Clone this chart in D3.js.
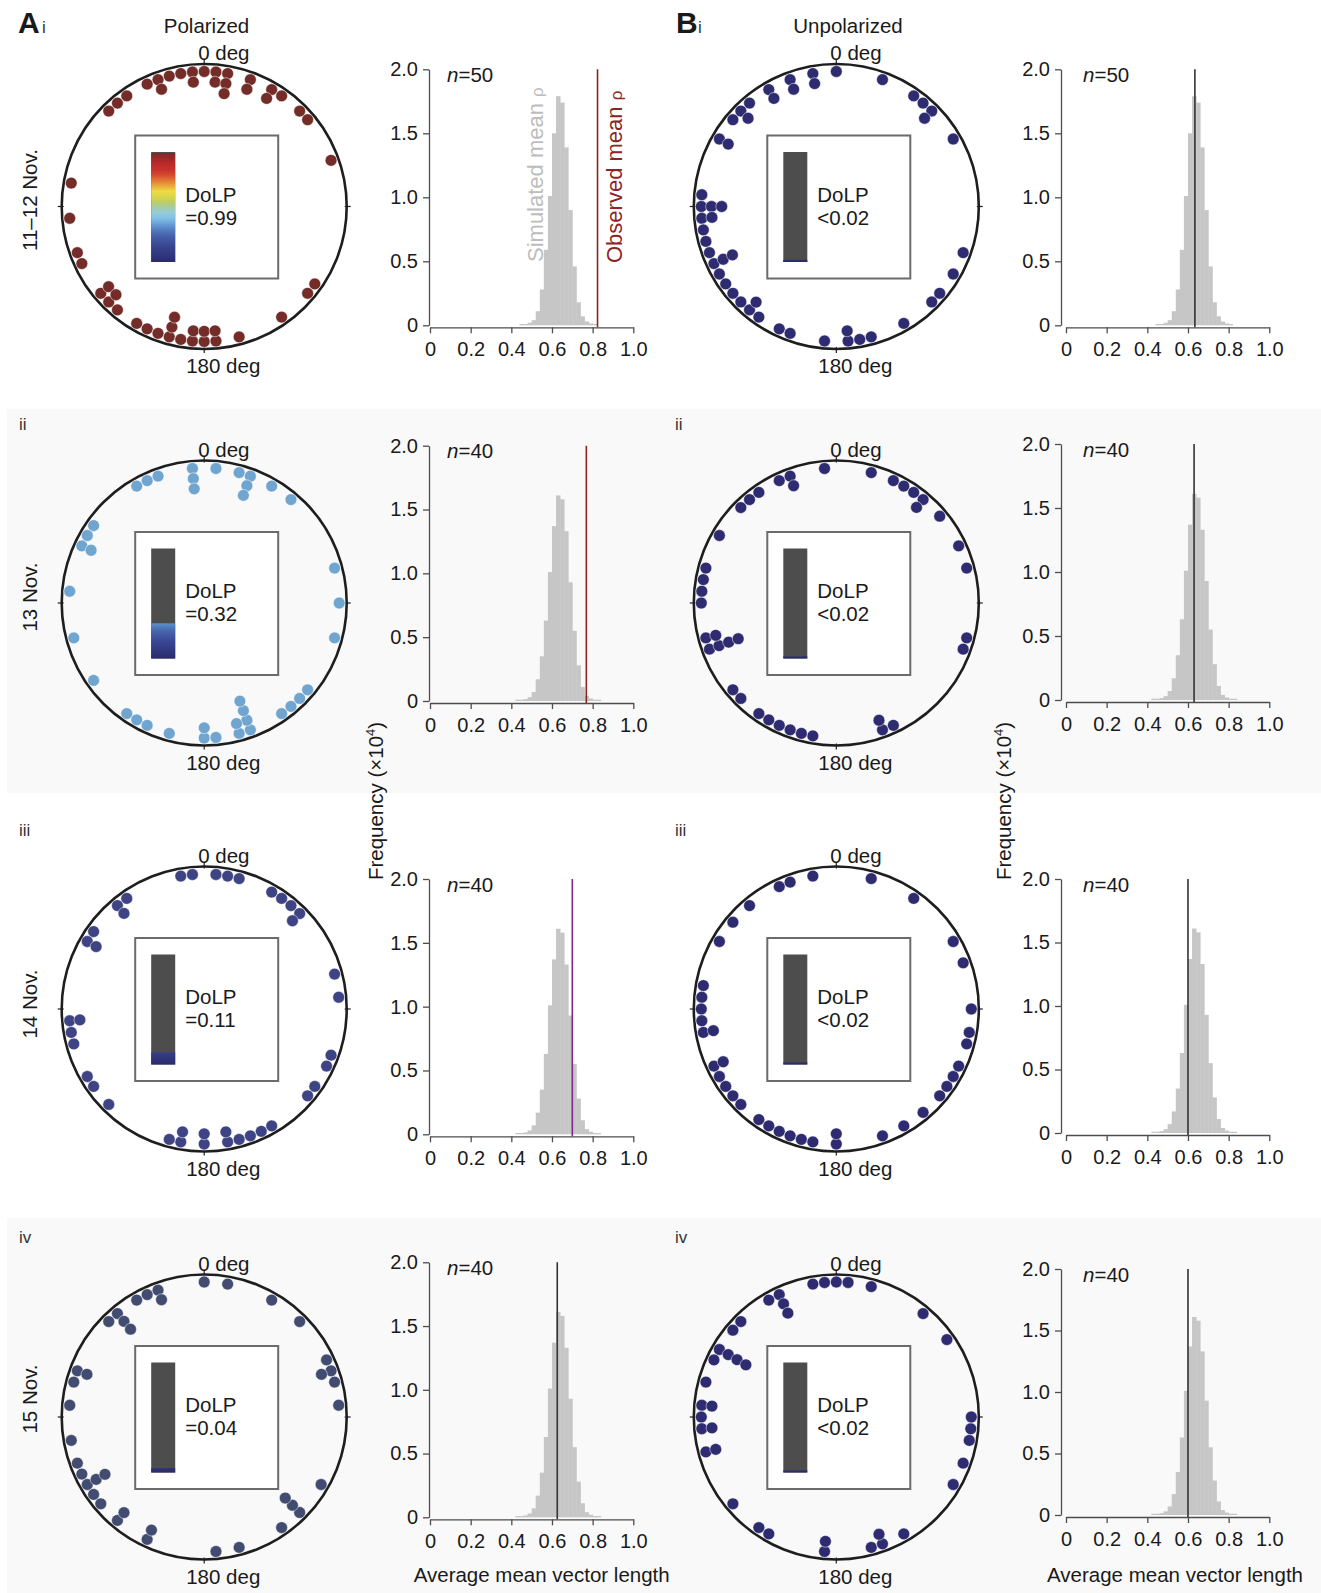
<!DOCTYPE html>
<html lang="en">
<head>
<meta charset="UTF-8">
<title>Polarized vs unpolarized orientation</title>
<script src="https://d3js.org/d3.v7.min.js"></script>
<style>
  body { margin: 0; background: #fff; }
  svg { display: block; font-family: "Liberation Sans", Arial, sans-serif; }
  .tick text { font-size: 20px; fill: #1a1a1a; }
  .axis path, .axis line { stroke: #4d4d4d; stroke-width: 1.3px; }
</style>
</head>
<body>
<svg id="fig" width="1321" height="1593"></svg>
<script>
// ---- data: heading of each animal, degrees (5 deg bins; repeats stack inward)
const anglesAi = [0, 355, 355, 5, 5, 10, 10, 10, 350, 345, 340, 340, 335, 20, 20, 30, 30, 35, 325, 320, 315, 45, 50, 70,
  280, 265, 250, 245, 230, 230, 225, 225, 220, 210, 205, 200, 195, 195, 195, 190, 185, 185, 180, 180, 175, 175, 165, 145, 130, 125];
const anglesBi = [0, 350, 350, 340, 340, 330, 330, 320, 315, 315, 310, 300, 300, 20, 35, 40, 45, 45, 60, 275, 270, 270, 270,
  265, 265, 260, 255, 250, 245, 245, 245, 240, 235, 230, 225, 220, 220, 215, 205, 200, 185, 175, 175, 170, 165, 150, 135, 130, 120, 110];
const anglesAii = [355, 355, 355, 5, 15, 20, 20, 20, 30, 40, 340, 335, 330, 305, 300, 295, 295, 275, 255, 235, 215, 210, 205, 195,
  180, 180, 175, 160, 160, 160, 160, 165, 165, 145, 140, 135, 130, 75, 90, 105];
const anglesBii = [355, 15, 25, 30, 35, 40, 40, 50, 65, 75, 105, 110, 155, 160, 160, 190, 195, 200, 205, 210, 215, 225, 230,
  250, 250, 250, 250, 255, 255, 270, 275, 280, 285, 300, 315, 320, 325, 335, 340, 340];
const anglesAiii = [350, 355, 5, 10, 15, 30, 35, 40, 45, 45, 325, 320, 320, 305, 300, 300, 75, 85, 110, 115, 125, 130, 150, 155,
  160, 165, 170, 170, 180, 180, 190, 190, 195, 225, 235, 240, 255, 260, 265, 265];
const anglesBiii = [350, 15, 35, 335, 340, 320, 310, 300, 280, 275, 270, 265, 260, 260, 245, 245, 240, 235, 230, 225, 215,
  210, 205, 200, 195, 190, 180, 180, 160, 150, 140, 130, 125, 120, 115, 105, 100, 90, 70, 60];
const anglesAiv = [0, 10, 30, 45, 340, 340, 335, 330, 320, 320, 320, 315, 290, 290, 285, 275, 260, 250, 245, 240, 240, 240,
  235, 230, 220, 220, 205, 205, 175, 165, 145, 135, 135, 135, 120, 85, 75, 70, 70, 65];
const anglesBiv = [0, 5, 355, 350, 15, 40, 55, 335, 335, 335, 330, 315, 310, 300, 300, 300, 300, 295, 285, 275, 275, 270,
  265, 265, 255, 255, 230, 215, 210, 185, 185, 165, 160, 160, 150, 120, 110, 100, 95, 90];

const dolpA = [0.99, 0.32, 0.11, 0.04];
const dolpB = [0.02, 0.02, 0.02, 0.02];
const dolpLabelsA = ["=0.99", "=0.32", "=0.11", "=0.04"];
const dolpLabelsB = ["<0.02", "<0.02", "<0.02", "<0.02"];
const dotColorsA = ["#732c27", "#70a5d0", "#3e4383", "#424b70"];
const dotColorsB = ["#2e2b70", "#2e2b70", "#2e2b70", "#2e2b70"];
const rowDates = ["11\u201312 Nov.", "13 Nov.", "14 Nov.", "15 Nov."];
const rowNumerals = ["i", "ii", "iii", "iv"];
const sampleN = [50, 40, 40, 40];

// simulated mean vector length histograms (frequency x10^4)
const edgesN50 = [0.44, 0.46, 0.48, 0.50, 0.52, 0.54, 0.56, 0.58, 0.60, 0.62, 0.64, 0.66, 0.68, 0.70, 0.72, 0.74, 0.76, 0.78, 0.80, 0.82];
const freqN50 = [0.01, 0.01, 0.02, 0.04, 0.11, 0.28, 0.59, 1.01, 1.50, 1.79, 1.74, 1.39, 0.90, 0.46, 0.18, 0.07, 0.03, 0.015, 0.01];
const edgesN40 = [0.42, 0.44, 0.46, 0.48, 0.50, 0.52, 0.54, 0.56, 0.58, 0.60, 0.62, 0.64, 0.66, 0.68, 0.70, 0.72, 0.74, 0.76, 0.78, 0.80, 0.82, 0.84];
const freqN40 = [0.01, 0.01, 0.015, 0.03, 0.07, 0.17, 0.35, 0.63, 1.01, 1.37, 1.61, 1.58, 1.33, 0.93, 0.55, 0.28, 0.11, 0.04, 0.02, 0.01, 0.01];

const observedA = [0.824, 0.769, 0.70, 0.626];
const observedB = [0.634, 0.63, 0.60, 0.60];
const obsColorsA = ["#8c2424", "#8c2424", "#7e2a8c", "#333333"];
const obsColorB = "#333333";

// colour map used for DoLP bars
const cmapStops = [0, 0.08, 0.17, 0.26, 0.32, 0.41, 0.47, 0.52, 0.56, 0.64, 0.70, 0.75, 0.81, 0.90, 1.0];
const cmapColors = ["#2a2a6c", "#323a80", "#3c4a98", "#4a6ab0", "#5a90d0", "#88c8ea", "#9ccfd0", "#a8c880",
  "#c8d050", "#f0e040", "#eaa040", "#e07030", "#d03830", "#b82828", "#782828"];

// ---- layout
const rowCy = [206.5, 603, 1009, 1417];
const labelCy = [200, 597, 1004, 1399];
const numeralY = [33, 430, 836, 1243];
const histTopA = [69.3, 445.7, 879, 1262.3], histZeroA = [325.3, 701, 1134.3, 1517.3];
const histTopB = [69.3, 444, 879, 1269], histZeroB = [325.3, 700, 1133, 1515];
const R = 142.5;

const svg = d3.select("#fig");
const cmap = d3.scaleLinear().domain(cmapStops).range(cmapColors);
const defs = svg.append("defs");

svg.append("rect").attr("width", 1321).attr("height", 1593).attr("fill", "#fff");
[[409, 793], [1218, 1593]].forEach(b => {
  svg.append("rect").attr("x", 7).attr("y", b[0]).attr("width", 1314).attr("height", b[1] - b[0]).attr("fill", "#f9f9f9");
});

function txt(g, x, y, s, size, opts = {}) {
  const t = g.append("text").attr("x", x).attr("y", y).attr("font-size", size).attr("fill", opts.fill || "#1a1a1a").text(s);
  if (opts.anchor) t.attr("text-anchor", opts.anchor);
  if (opts.weight) t.attr("font-weight", opts.weight);
  return t;
}

function drawCircle(id, cx, cy, angles, dotColor, dolp, dolpLabel) {
  const g = svg.append("g");
  const ang = d3.scaleLinear().domain([0, 360]).range([0, 2 * Math.PI]);
  const rad = d3.scaleLinear().domain([0, 1]).range([R - 7.5, R - 17.7]);

  g.append("circle").attr("cx", cx).attr("cy", cy).attr("r", R)
    .attr("fill", "none").attr("stroke", "#1e1e1e").attr("stroke-width", 2.6);
  [0, 90, 180, 270].forEach(a => {
    const p1 = d3.pointRadial(ang(a), R - 2), p2 = d3.pointRadial(ang(a), R + 4);
    g.append("line").attr("x1", cx + p1[0]).attr("y1", cy + p1[1]).attr("x2", cx + p2[0]).attr("y2", cy + p2[1])
      .attr("stroke", "#1e1e1e").attr("stroke-width", 1.2);
  });

  // legend box with DoLP bar
  g.append("rect").attr("x", cx - 69).attr("y", cy - 71).attr("width", 143).attr("height", 143)
    .attr("fill", "#fff").attr("stroke", "#6b6b6b").attr("stroke-width", 2);
  const cb = d3.scaleLinear().domain([0, 1]).range([cy + 55.5, cy - 54.5]);
  g.append("rect").attr("x", cx - 53).attr("y", cb(1)).attr("width", 24).attr("height", cb(0) - cb(1)).attr("fill", "#4d4d4d");
  const grad = defs.append("linearGradient").attr("id", "cb-" + id)
    .attr("x1", 0).attr("y1", 1).attr("x2", 0).attr("y2", 0);
  d3.range(0, 1.0001, 0.05).forEach(o => {
    grad.append("stop").attr("offset", o).attr("stop-color", cmap(o * dolp));
  });
  g.append("rect").attr("x", cx - 53).attr("y", cb(dolp)).attr("width", 24).attr("height", cb(0) - cb(dolp))
    .attr("fill", `url(#cb-${id})`);
  txt(g, cx - 19, cy - 5, "DoLP", 20.5);
  txt(g, cx - 19, cy + 18, dolpLabel, 20.5);

  txt(g, cx - 6, cy - R - 4, "0 deg", 20.5);
  txt(g, cx - 18, cy + R + 24, "180 deg", 20.5);

  const seen = {};
  const pts = angles.map(a => { const k = seen[a] || 0; seen[a] = k + 1; return { a, k }; });
  g.selectAll("circle.dot").data(pts).join("circle").attr("class", "dot")
    .attr("cx", d => cx + d3.pointRadial(ang(d.a), rad(d.k))[0])
    .attr("cy", d => cy + d3.pointRadial(ang(d.a), rad(d.k))[1])
    .attr("r", 5.9).attr("fill", dotColor).attr("stroke", "#fff").attr("stroke-width", 0.5);
}

function drawHist(x0, top, zero, axisGap, edges, freq, n, obs, obsColor) {
  const g = svg.append("g");
  const x = d3.scaleLinear().domain([0, 1]).range([x0, x0 + 203.3]);
  const y = d3.scaleLinear().domain([0, 2]).range([zero, top]);
  const bins = freq.map((f, i) => ({ a: edges[i], b: edges[i + 1], f }));
  g.selectAll("rect").data(bins).join("rect")
    .attr("x", d => x(d.a)).attr("width", d => x(d.b) - x(d.a) + 0.4)
    .attr("y", d => y(d.f)).attr("height", d => y(0) - y(d.f)).attr("fill", "#c6c6c6");

  const fmt = d => d === 0 ? "0" : d.toFixed(1);
  g.append("g").attr("class", "axis").attr("transform", `translate(0,${zero + 2})`)
    .call(d3.axisBottom(x).tickValues([0, 0.2, 0.4, 0.6, 0.8, 1]).tickFormat(fmt).tickSize(6).tickPadding(9).tickSizeOuter(0))
    .attr("font-size", null).attr("font-family", null);
  g.append("g").attr("class", "axis").attr("transform", `translate(${x0 - axisGap},0)`)
    .call(d3.axisLeft(y).tickValues([0, 0.5, 1, 1.5, 2]).tickFormat(fmt).tickSize(6).tickPadding(5).tickSizeOuter(0))
    .attr("font-size", null).attr("font-family", null);

  g.append("line").attr("x1", x(obs)).attr("x2", x(obs)).attr("y1", y(2)).attr("y2", zero + 2)
    .attr("stroke", obsColor).attr("stroke-width", 1.6);

  const t = txt(g, x0 + 17, top + 12.5, "", 20.5);
  t.append("tspan").attr("font-style", "italic").text("n");
  t.append("tspan").text("=" + n);
  return { g, x, y };
}

// column headers
txt(svg, 18, 33, "A", 30, { weight: "bold" });
txt(svg, 42, 33, "i", 17, { fill: "#333" });
txt(svg, 676, 33, "B", 30, { weight: "bold" });
txt(svg, 698, 33, "i", 17, { fill: "#333" });
txt(svg, 206.5, 33, "Polarized", 20.5, { anchor: "middle" });
txt(svg, 848, 33, "Unpolarized", 20.5, { anchor: "middle" });

const anglesA = [anglesAi, anglesAii, anglesAiii, anglesAiv];
const anglesB = [anglesBi, anglesBii, anglesBiii, anglesBiv];

rowCy.forEach((cy, r) => {
  if (r > 0) {
    txt(svg, 19, numeralY[r], rowNumerals[r], 17, { fill: "#333" });
    txt(svg, 675, numeralY[r], rowNumerals[r], 17, { fill: "#333" });
  }
  svg.append("text").attr("transform", `translate(36.5,${labelCy[r]}) rotate(-90)`)
    .attr("text-anchor", "middle").attr("font-size", 20.5).attr("fill", "#1a1a1a").text(rowDates[r]);

  drawCircle("A" + r, 204.2, cy, anglesA[r], dotColorsA[r], dolpA[r], dolpLabelsA[r]);
  drawCircle("B" + r, 836.3, cy, anglesB[r], dotColorsB[r], dolpB[r], dolpLabelsB[r]);

  const eA = r === 0 ? edgesN50 : edgesN40, fA = r === 0 ? freqN50 : freqN40;
  drawHist(430, histTopA[r], histZeroA[r], 1, eA, fA, sampleN[r], observedA[r], obsColorsA[r]);
  drawHist(1066, histTopB[r], histZeroB[r], 5, eA, fA, sampleN[r], observedB[r], obsColorB);
});

// annotations on first histogram
const sim = svg.append("text").attr("transform", "translate(542.7,262) rotate(-90)")
  .attr("font-size", 22).attr("fill", "#bdbdbd").text("Simulated mean ");
sim.append("tspan").attr("font-size", 17).text("\u03c1");
const obsT = svg.append("text").attr("transform", "translate(621.5,263) rotate(-90)")
  .attr("font-size", 22).attr("fill", "#8c2424").text("Observed mean ");
obsT.append("tspan").attr("font-size", 17).text("\u03c1");

// shared axis titles
[383, 1011].forEach(xx => {
  const f = svg.append("text").attr("transform", `translate(${xx},801) rotate(-90)`)
    .attr("text-anchor", "middle").attr("font-size", 20.5).attr("fill", "#1a1a1a").text("Frequency (\u00d710");
  f.append("tspan").attr("font-size", 13).attr("dy", -8).text("4");
  f.append("tspan").attr("dy", 8).text(")");
});
txt(svg, 541.7, 1581.7, "Average mean vector length", 20.5, { anchor: "middle" });
txt(svg, 1175, 1581.7, "Average mean vector length", 20.5, { anchor: "middle" });
</script>
</body>
</html>
